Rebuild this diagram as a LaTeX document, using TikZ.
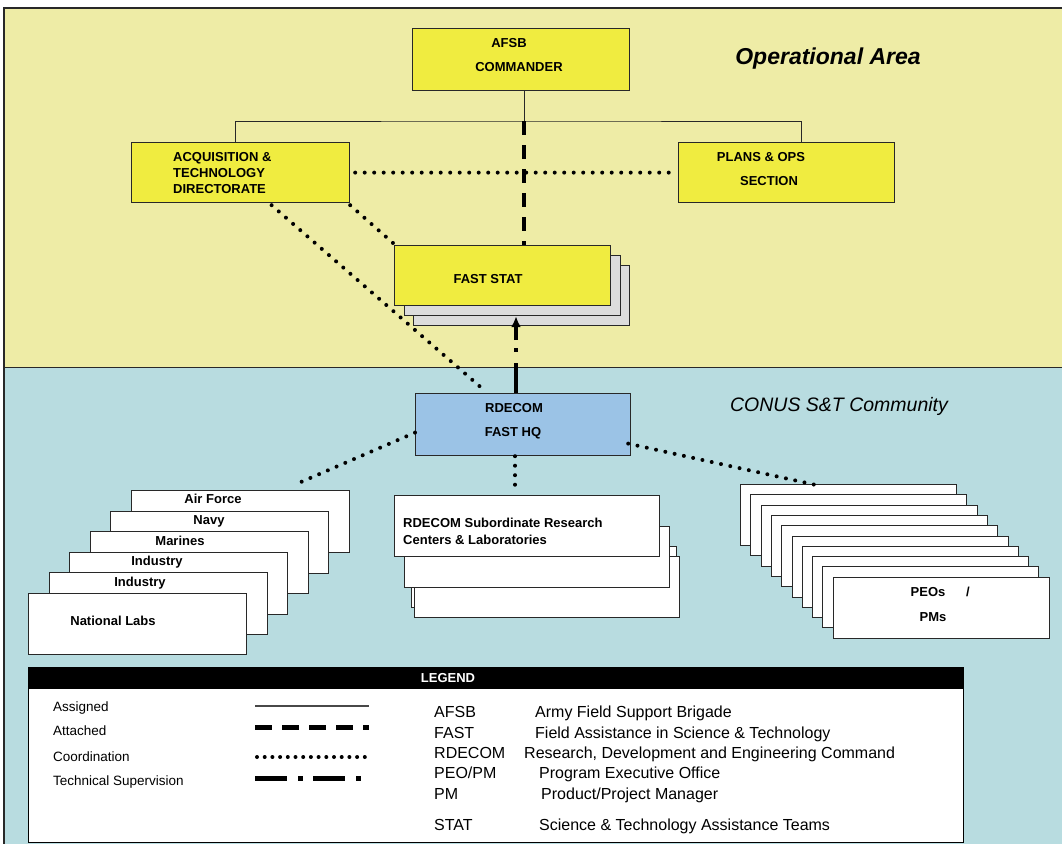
\documentclass[tikz,border=0pt]{standalone}
\usepackage{fontspec}
\setmainfont{Liberation Sans}
\usetikzlibrary{calc,arrows.meta}
\definecolor{ybg}{RGB}{238,236,166}
\definecolor{bbg}{RGB}{184,220,224}
\definecolor{yboxc}{RGB}{240,236,64}
\definecolor{rdblue}{RGB}{155,195,230}
\definecolor{shgray}{RGB}{220,220,220}
\definecolor{edge}{RGB}{40,40,40}
\begin{document}
\begin{tikzpicture}[x=1pt,y=-1pt,
  boxbase/.style={draw=edge, line width=1.2pt, inner sep=0pt, anchor=north west},
  yb/.style={boxbase, fill=yboxc, minimum width=216pt, minimum height=60pt},
  gb/.style={boxbase, fill=shgray, minimum width=216pt, minimum height=60pt},
  wb/.style={boxbase, fill=white},
  bt/.style={font=\fontsize{13}{15}\selectfont\bfseries, inner sep=0pt, text height=9.3pt, text depth=0pt},
  lgl/.style={font=\fontsize{13.5}{16}\selectfont, anchor=west, inner sep=0pt, text height=9.7pt, text depth=0pt},
  lga/.style={font=\fontsize{16}{19}\selectfont, anchor=west, inner sep=0pt, text height=11.5pt, text depth=0pt},
  assigned/.style={line width=1pt, draw=edge},
  attached/.style={line width=4.5pt, dash pattern=on 14pt off 10pt},
  coordline/.style={line width=4pt, line cap=round, dash pattern=on 0pt off 9.5pt},
  techsup/.style={line width=3.5pt, dash pattern=on 30pt off 11pt on 4pt off 8pt, -{Latex[length=11pt,width=10pt]}}
]
\useasboundingbox (0,0) rectangle (1062,844);
% backgrounds
\fill[ybg] (4,8) rectangle (1062,367);
\fill[bbg] (4,367) rectangle (1062,844);
\draw[line width=1.2pt, edge] (1062,8) -- (4,8) -- (4,844);
\draw[line width=1pt, edge] (4,367) -- (1062,367);

\node[font=\fontsize{23}{27}\selectfont\bfseries\itshape, inner sep=0pt] (opt) at (828,59) {Operational Area};
\node[font=\fontsize{19.5}{23}\selectfont\itshape, inner sep=0pt] (cont) at (839,406) {CONUS S\&T Community};

% top boxes
\node[yb, minimum width=217pt, minimum height=62pt] (afsb) at (412,28) {};
\node[bt] (afsbt1) at (509,43) {AFSB};
\node[bt] (afsbt2) at (519,67) {COMMANDER};

\node[yb, minimum width=218pt] (acq) at (131,142) {};
\node[bt, anchor=west] (acqt1) at (173,157) {ACQUISITION \&};
\node[bt, anchor=west] (acqt2) at (173,173) {TECHNOLOGY};
\node[bt, anchor=west] (acqt3) at (173,189) {DIRECTORATE};

\node[yb] (plans) at (678,142) {};
\node[bt] (planst1) at (761,157) {PLANS \& OPS};
\node[bt] (planst2) at (769,181) {SECTION};

% FAST STAT stack
\node[gb] (fs2) at (413,265) {};
\node[gb] (fs1) at (404,255) {};
\node[yb] (fast) at (394,245) {};
\node[bt] (fastt) at (488,279) {FAST STAT};

% RDECOM
\node[boxbase, fill=rdblue, minimum width=215pt, minimum height=62pt] (rdecom) at (415,393) {};
\node[bt] (rdt1) at (514,408) {RDECOM};
\node[bt] (rdt2) at (513,432) {FAST HQ};

% connectors top
\coordinate (bus) at (524,121);
\draw[assigned] (afsb.south -| bus) -- (bus);
\draw[assigned] ($(acq.north)+(-5,0)$) |- (bus) -| ($(plans.north)+(15,0)$);
\draw[attached] (bus) -- (bus |- fast.north);
\draw[coordline] ($(acq.east)+(5,0)$) -- ($(plans.west)+(-5,0)$);
\draw[coordline] ($(acq.south)+(31,2)$) -- ($(rdecom.north)+(-38,-2)$);
\draw[coordline] ($(acq.south east)+(0,2)$) -- ($(fast.north west)+(-1,-2)$);
\coordinate (tsb) at (516,393);
\draw[techsup] (tsb) -- (tsb |- fs1.south);

% left stack
\node[wb, minimum width=218pt, minimum height=62pt] (ls0) at (131,490) {};
\node[wb, minimum width=218pt, minimum height=62pt] (ls1) at (110,511) {};
\node[wb, minimum width=218pt, minimum height=62pt] (ls2) at (90,531) {};
\node[wb, minimum width=218pt, minimum height=62pt] (ls3) at (69,552) {};
\node[wb, minimum width=218pt, minimum height=62pt] (ls4) at (49,572) {};
\node[wb, minimum width=218pt, minimum height=61pt] (ls5) at (28,593) {};
\node[bt] (lt0) at (213,499) {Air Force};
\node[bt] (lt1) at (209,520) {Navy};
\node[bt] (lt2) at (180,541) {Marines};
\node[bt] (lt3) at (157,561) {Industry};
\node[bt] (lt4) at (140,582) {Industry};
\node[bt] (lt5) at (113,621) {National Labs};

% middle stack
\node[wb, minimum width=265pt, minimum height=61pt] (ms3) at (411,546) {};
\node[wb, minimum width=265pt, minimum height=61pt] (ms2) at (414,556) {};
\node[wb, minimum width=265pt, minimum height=61pt] (ms1) at (404,526) {};
\node[wb, minimum width=265pt, minimum height=61pt] (ms0) at (394,495) {};
\node[bt, anchor=west] (mt1) at (403,523) {RDECOM Subordinate Research};
\node[bt, anchor=west] (mt2) at (403,540) {Centers \& Laboratories};

% right stack
\foreach \i in {0,...,9}{
  \pgfmathtruncatemacro{\rx}{740+10.3*\i+0.5}
  \pgfmathtruncatemacro{\ry}{484+10.3*\i+0.5}
  \node[wb, minimum width=216pt, minimum height=61pt] (rs\i) at (\rx,\ry) {};
}
\node[bt] (rt1) at (928,592) {PEOs};
\node[bt] (rt2) at (968,592) {/};
\node[bt] (rt3) at (933,617) {PMs};

% RDECOM coordination
\coordinate (lend) at (301,482);
\coordinate (mend) at (515,488);
\coordinate (rend) at (816,485);
\draw[coordline] ($(rdecom.west)+(0,8)$) -- (lend);
\draw[coordline] (rdecom.south -| mend) -- (mend);
\draw[coordline] ($(rdecom.east)+(-3,19)$) -- (rend);

% legend
\node[boxbase, fill=white, draw=black, minimum width=935pt, minimum height=175pt] (leg) at (28,667) {};
\node[boxbase, fill=black, draw=black, minimum width=935pt, minimum height=21pt] (legh) at (28,667) {};
\node[bt, text=white] (legt) at (448,678) {LEGEND};

\node[lgl] (l1) at (53,707) {Assigned};
\node[lgl] (l2) at (53,731) {Attached};
\node[lgl] (l3) at (53,757) {Coordination};
\node[lgl] (l4) at (53,781) {Technical Supervision};

\coordinate (s1a) at (255,706); \coordinate (s1b) at (369,706);
\coordinate (s2a) at (255,727); \coordinate (s2b) at (369,727);
\coordinate (s3a) at (257,757); \coordinate (s3b) at (369,757);
\coordinate (s4a) at (255,778); \coordinate (s4b) at (369,778);
\draw[line width=2.2pt, draw=edge!85] (s1a) -- (s1b);
\draw[line width=5pt, dash pattern=on 17pt off 10pt] (s2a) -- (s2b);
\draw[line width=4pt, line cap=round, dash pattern=on 0pt off 7.7pt] (s3a) -- (s3b);
\draw[line width=5pt, dash pattern=on 32pt off 11pt on 5pt off 10pt] (s4a) -- (s4b);

\node[lga] (a1) at (434,712) {AFSB};
\node[lga] (a2) at (434,733) {FAST};
\node[lga] (a3) at (434,753) {RDECOM};
\node[lga] (a4) at (434,773) {PEO/PM};
\node[lga] (a5) at (434,794) {PM};
\node[lga] (a6) at (434,825) {STAT};
\node[lga] (d1) at (535,712) {Army Field Support Brigade};
\node[lga] (d2) at (535,733) {Field Assistance in Science \& Technology};
\node[lga] (d3) at (524,753) {Research, Development and Engineering Command};
\node[lga] (d4) at (539,773) {Program Executive Office};
\node[lga] (d5) at (541,794) {Product/Project Manager};
\node[lga] (d6) at (539,825) {Science \& Technology Assistance Teams};
\end{tikzpicture}
\end{document}
